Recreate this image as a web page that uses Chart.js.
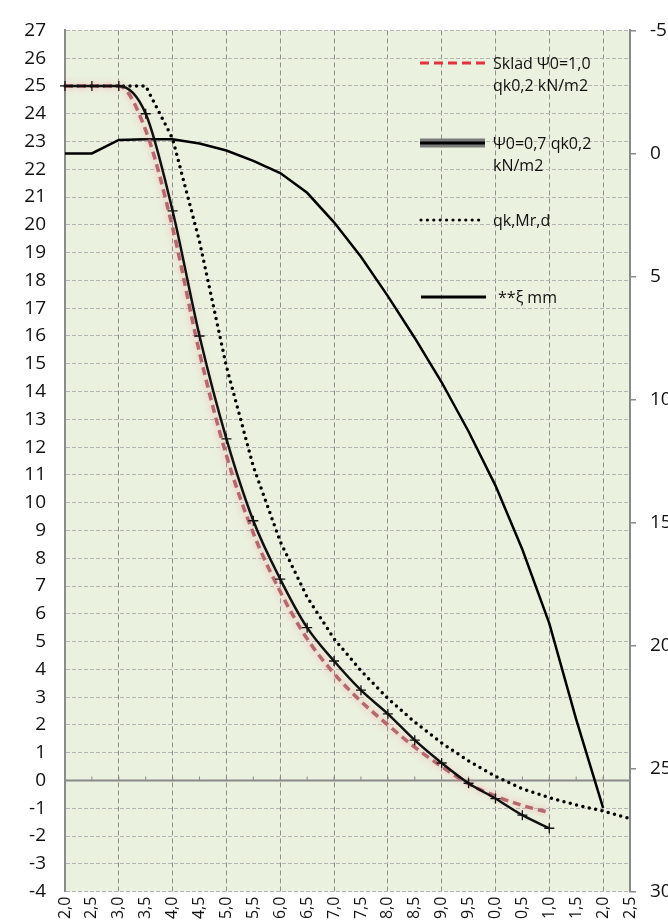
<!DOCTYPE html>
<html><head><meta charset="utf-8">
<script src="https://cdn.jsdelivr.net/npm/chart.js@4"></script>
<style>
html,body{margin:0;padding:0;background:#fff;}
#wrap{position:relative;width:668px;height:922px;overflow:hidden;}
canvas{display:block;}
.lt{position:absolute;font-family:"Open Sans",sans-serif;font-size:16px;line-height:22px;color:#111;white-space:nowrap;}
svg.ls{position:absolute;overflow:visible;}
</style></head><body>
<div id="wrap"><canvas id="c" width="668" height="922"></canvas></div>
<script>
// ---- data ----
const categories = ["2,0","2,5","3,0","3,5","4,0","4,5","5,0","5,5","6,0","6,5","7,0","7,5","8,0","8,5","9,0","9,5","10,0","10,5","11,0","11,5","12,0","12,5"];
const skladPsi10 = [25,25,25,23.4,19.9,15.4,11.7,8.9,6.8,5.1,3.85,2.85,2.0,1.2,0.5,-0.12,-0.56,-0.9,-1.15,null,null,null];
const psi07 = [25,25,25,24,20.5,16,12.3,9.35,7.25,5.5,4.3,3.25,2.4,1.45,0.63,-0.1,-0.65,-1.25,-1.72,null,null,null];
const qkMrd = [25,25,25,25,23.1,19.4,14.9,11.3,8.6,6.6,5.1,3.95,2.95,2.1,1.35,0.7,0.15,-0.3,-0.62,-0.88,-1.1,-1.37];
const xiMm = [0,0,-0.55,-0.58,-0.58,-0.4,-0.12,0.3,0.8,1.6,2.8,4.2,5.8,7.5,9.3,11.3,13.5,16.1,19.1,23.0,26.6,null];
const leftTicks = {min:-4, max:27, step:1};
const rightTicks = {min:-5, max:30, step:5};
const legendLabels = [["Sklad Ψ0=1,0","qk0,2 kN/m2"],["Ψ0=0,7 qk0,2","kN/m2"],["qk,Mr,d"],["**ξ mm"]];

Chart.defaults.font.family = "'Open Sans', sans-serif";
Chart.defaults.color = '#111';

const bgPlugin = {
  id:'bg',
  beforeDraw(chart){
    const {ctx, chartArea:a} = chart;
    ctx.save(); ctx.fillStyle='#EBF1DF';
    ctx.fillRect(a.left,a.top,a.right-a.left,a.bottom-a.top);
    ctx.restore();
  },
  beforeDatasetsDraw(chart){
    const {ctx, chartArea:a} = chart;
    const y = chart.scales.y.getPixelForValue(0);
    const xs = chart.scales.x;
    ctx.save();
    ctx.strokeStyle='#8a8a8a'; ctx.lineWidth=2;
    ctx.beginPath(); ctx.moveTo(a.left,y); ctx.lineTo(a.right,y); ctx.stroke();
    ctx.lineWidth=1;
    for(let i=0;i<categories.length;i++){
      const x = xs.getPixelForTick(i);
      ctx.beginPath(); ctx.moveTo(x,y-4); ctx.lineTo(x,y); ctx.stroke();
    }
    ctx.restore();
  },
  beforeDatasetDraw(chart,args){
    if(args.meta.label===legendLabels[0].join(' ')){
      chart.ctx.save();
      chart.ctx.shadowColor='rgba(245,130,140,0.75)';
      chart.ctx.shadowBlur=7;
    }
  },
  afterDatasetDraw(chart,args){
    if(args.meta.label===legendLabels[0].join(' ')) chart.ctx.restore();
  }
};

new Chart(document.getElementById('c'),{
  type:'line',
  data:{
    labels:categories,
    datasets:[
      {label:legendLabels[1].join(' '), data:psi07, yAxisID:'y', borderColor:'#111', borderWidth:2.5,
       cubicInterpolationMode:'monotone', pointStyle:'cross', pointRadius:5, pointBorderWidth:1.3,
       pointBorderColor:'#111', order:1},
      {label:legendLabels[0].join(' '), data:skladPsi10, yAxisID:'y', borderColor:'rgba(176,98,104,0.95)', borderWidth:3.5,
       borderDash:[8,5], cubicInterpolationMode:'monotone', pointRadius:0, order:2},
      {label:legendLabels[2].join(' '), data:qkMrd, yAxisID:'y', borderColor:'#000', borderWidth:3.5,
       borderDash:[0,6.5], borderCapStyle:'round', tension:0, pointRadius:0, order:3},
      {label:legendLabels[3].join(' '), data:xiMm, yAxisID:'y2', borderColor:'#000', borderWidth:2.5,
       tension:0, pointRadius:0, order:4}
    ]
  },
  options:{
    responsive:false, animation:false, spanGaps:false,
    layout:{padding:{top:25,left:0,right:0,bottom:0}},
    plugins:{legend:{display:false}, tooltip:{enabled:false}},
    scales:{
      x:{
        type:'category', offset:false,
        afterFit(s){ s.height=29; },
        grid:{drawTicks:false, lineWidth:1,
          color:(c)=> (c.index%2===0 ? '#8f8f8f' : 'rgba(0,0,0,0)')},
        border:{display:false, dash:[5,3]},
        ticks:{autoSkip:false, maxRotation:90, minRotation:90, padding:5, font:{size:16}, color:'#111'}
      },
      y:{
        position:'left', min:leftTicks.min, max:leftTicks.max,
        afterFit(s){ s.width=65; },
        grid:{drawTicks:false, color:'#b5b5b5', lineWidth:1},
        border:{display:true, color:'#8a8a8a', width:2, dash:[4,2]},
        ticks:{stepSize:leftTicks.step, autoSkip:false, padding:19, font:{size:19}, color:'#111'}
      },
      y2:{
        position:'right', reverse:true, min:rightTicks.min, max:rightTicks.max,
        afterFit(s){ s.width=38; },
        grid:{drawOnChartArea:false, drawTicks:true, tickLength:6, color:'#8a8a8a', lineWidth:1.5},
        border:{display:true, color:'#8a8a8a', width:2},
        ticks:{stepSize:rightTicks.step, autoSkip:false, padding:14, font:{size:19}, color:'#111'}
      }
    }
  },
  plugins:[bgPlugin]
});

// ---- legend (HTML text) ----
const wrap = document.getElementById('wrap');
const legendRows = [63,143,220,297];
const textLeft = [493,493,493,498];
function sample(kind, y){
  const ns='http://www.w3.org/2000/svg';
  const svg=document.createElementNS(ns,'svg');
  svg.setAttribute('class','ls'); svg.setAttribute('width','70'); svg.setAttribute('height','14');
  svg.style.left='418px'; svg.style.top=(y-7)+'px';
  const mk=(t,attrs)=>{const e=document.createElementNS(ns,t);for(const k in attrs)e.setAttribute(k,attrs[k]);svg.appendChild(e);return e;};
  if(kind===0){ mk('line',{x1:2,y1:7,x2:67,y2:7,stroke:'#E0333E','stroke-width':3,'stroke-dasharray':'9 5'}); }
  if(kind===1){ mk('rect',{x:2,y:2.5,width:65,height:9,fill:'#7a7a7a'}); mk('line',{x1:2,y1:7,x2:67,y2:7,stroke:'#000','stroke-width':3}); }
  if(kind===2){ mk('line',{x1:3,y1:7,x2:66,y2:7,stroke:'#000','stroke-width':3.2,'stroke-dasharray':'0 6.4','stroke-linecap':'round'}); }
  if(kind===3){ mk('line',{x1:3,y1:7,x2:68,y2:7,stroke:'#000','stroke-width':3}); }
  wrap.appendChild(svg);
}
legendLabels.forEach((lines,i)=>{
  sample(i, legendRows[i]);
  const d=document.createElement('div');
  d.className='lt'; d.style.left=textLeft[i]+'px'; d.style.top=(legendRows[i]-11)+'px';
  d.innerHTML=lines.join('<br>');
  wrap.appendChild(d);
});
</script>
</body></html>
